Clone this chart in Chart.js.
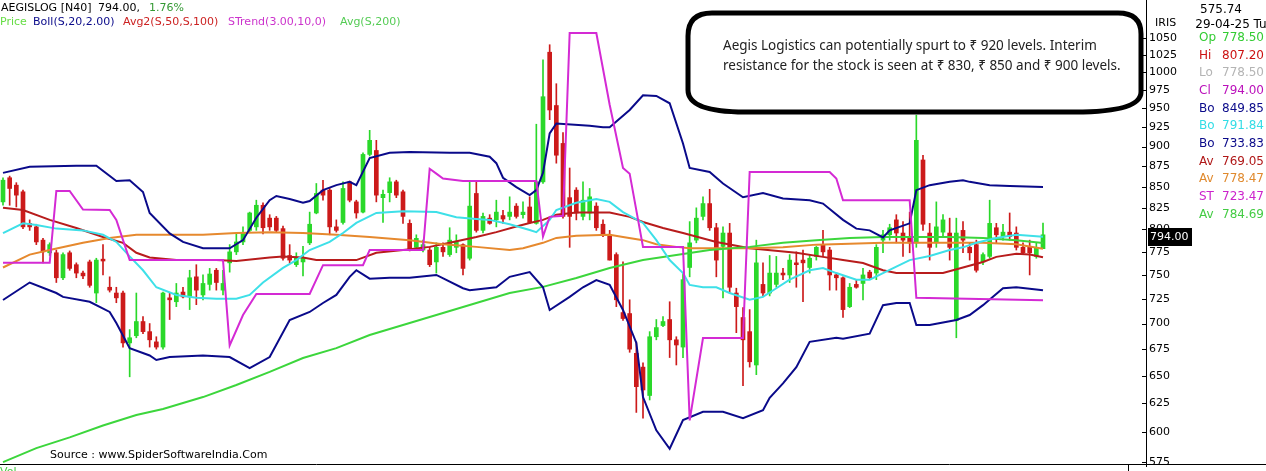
<!DOCTYPE html>
<html><head><meta charset="utf-8">
<script src="https://cdn.jsdelivr.net/npm/chart.js@4.4.1/dist/chart.umd.min.js"></script>
<style>html,body{margin:0;padding:0;background:#fff;overflow:hidden}#wrap{width:1266px;height:471px;position:relative}</style>
</head><body><div id="wrap"><canvas id="c" width="1266" height="471"></canvas></div>
<script>
// ---- DATA (daily candles, oldest -> newest) ----
const openP  = [832,861,852,844,807,803,788,774,774,747,774,761,752,764,731,767,737,731,731,681,688,702,692,682,677,726,722,732,727,748,729,740,755,734,763,775,786,799,803,828,813,813,801,771,761,764,785,819,846,846,803,808,856,832,820,890,895,837,843,856,844,807,780,777,777,764,780,772,780,783,768,842,799,813,811,816,815,827,817,826,807,856,1029,954,904,837,846,815,819,827,806,794,772,711,710,671,658,632,687,698,704,684,677,758,788,815,830,802,781,796,731,706,692,660,740,731,740,752,750,763,766,758,770,783,777,750,747,717,740,741,753,752,788,794,811,796,791,785,883,796,786,797,796,703,799,780,783,764,770,802,792,797,796,780,780,770,778.5];
const highP  = [861,863,855,846,811,806,790,785,777,774,776,763,754,766,768,783,748,737,733,694,731,707,700,687,732,731,741,737,755,761,750,757,757,755,783,796,803,820,834,831,817,815,804,783,774,781,820,854,858,848,811,856,857,834,892,921,908,846,861,858,846,811,794,788,780,785,785,802,794,784,856,856,819,817,834,822,838,830,832,838,929,1018,1040,984,918,873,849,856,848,831,811,799,774,764,724,682,662,692,704,707,722,687,752,809,825,838,847,807,803,807,736,716,714,788,763,771,770,757,772,775,777,772,781,799,780,752,748,741,745,757,755,783,799,806,817,809,820,941,889,807,832,817,813,813,809,785,788,774,834,807,806,819,803,785,788,785,807.2];
const lowP   = [828,828,826,801,799,783,763,771,742,745,755,747,746,737,721,750,732,721,677,649,686,690,677,675,675,704,717,726,714,719,724,734,734,729,753,772,783,797,799,795,799,797,766,763,759,749,783,818,834,794,797,806,832,813,819,888,832,808,832,837,807,776,779,775,759,752,770,770,774,750,766,797,796,806,803,807,811,813,813,807,806,854,935,879,813,780,811,811,811,799,792,766,717,703,672,617,612,628,684,697,667,660,667,748,785,811,799,748,726,731,691,641,658,651,728,728,737,745,742,737,722,752,766,770,734,734,706,716,736,724,745,745,774,788,785,770,774,780,799,766,780,792,766,686,774,766,753,761,768,785,788,788,777,772,750,768,778.5];
const closeP = [858,848,840,803,803,786,775,783,747,772,757,752,749,739,766,765,734,726,681,686,702,692,684,677,731,724,731,727,747,734,741,751,742,741,775,786,796,819,828,802,803,799,768,766,768,768,806,842,840,803,799,848,834,819,890,908,840,841,856,840,815,777,790,783,761,780,775,788,786,757,827,799,815,807,820,812,820,815,820,808,856,966,948,889,815,815,819,834,838,802,794,766,724,705,675,640,637,687,696,702,684,679,745,785,813,830,802,766,796,737,717,684,663,763,731,752,752,750,766,761,763,768,780,775,750,747,714,737,737,750,747,780,794,802,796,788,785,908,806,780,803,811,780,796,788,774,755,772,807,794,797,792,780,774,774,780,794];

// Indicator series: [candle index, value]
const bollUpper = [[0,867],[4,874.5],[11,875.7],[14,875.7],[17,857],[19,858],[21,843.7],[22,819],[25,795.6],[27,786],[30,779],[34,779],[36,788],[38,813.5],[40,834],[41,839],[43,835.5],[45,831],[46,833],[48,846],[50,852],[52,856],[53,852],[55,885.5],[58,892],[61,893],[67,892],[70,892],[73,887],[74,879],[75,861],[77,849.6],[79,840],[80,846],[81,867],[82,917],[83,930],[88,927],[90,925],[91,925],[94,948],[96,968],[98,967],[100,957],[102,904],[103,873],[106,868],[108,854],[111,837.5],[114,842.5],[117,836],[121,834],[123,830],[126,811],[128,801],[130,799],[132,791],[133,799],[136,807],[137,846],[139,852],[142,856],[144,858],[145,856],[148,852],[151,851],[156,849.85]];
const bollMid = [[0,796],[3,807],[5,805],[8,801],[12,799],[15,794],[17,786],[19,770],[21,755],[23,737],[26,729],[29,726],[32,725],[35,725],[37,729],[39,742],[42,757.5],[44,766],[46,777],[49,786],[51,796],[53,807.5],[56,819],[60,821],[65,820],[68,814],[71,812],[73,811],[76,806],[79,799.4],[80,797],[82,811],[83,822.5],[86,831],[89,835.5],[91,832],[93,820],[96,807.5],[98,788],[100,766],[102,752],[103,739.5],[105,737],[107,737],[109,731],[112,724],[114,727],[116,736],[118,745],[121,755],[123,757.5],[125,752],[128,745],[130,745],[132,752],[134,759],[136,766],[139,770.5],[142,777],[144,780],[146,785],[149,790.5],[152,794],[156,791.84]];
const bollLower = [[0,723.8],[4,742],[8,731],[9,727],[13,722],[16,711.6],[17,700.5],[19,676],[22,669],[23,664.7],[25,667.5],[30,669],[34,667.5],[37,657],[40,667.5],[43,703.5],[46,711.6],[48,720.7],[50,729],[52,748],[53,755],[55,746],[58,747],[61,747],[65,750],[69,736],[70,734],[74,737],[76,748],[79,753],[81,737],[82,713.6],[85,727],[87,737],[89,744.6],[91,739.5],[93,713.6],[95,681],[96,630.6],[98,601.5],[100,586],[102,610.4],[105,617.5],[108,617.5],[111,612],[114,619],[115,630],[117,643],[119,658],[121,682],[125,686],[126,685],[130,690],[132,718.5],[134,720.7],[136,720.7],[137,698.5],[139,698.5],[143,703.5],[145,708.5],[147,718.5],[150,736],[152,737],[156,733.83]];
const sma50 = [[0,825],[3,822.5],[7,811],[11,801.7],[15,791.5],[18,785],[20,774],[22,768.8],[26,766],[32,766],[35,765],[40,768.8],[42,770],[45,768.8],[47,766],[50,766],[53,766],[56,774],[60,777],[64,780.5],[67,785],[71,791.5],[74,797],[77,803.5],[79,807.5],[81,811],[83,817],[86,819.5],[89,819.5],[91,819.5],[94,814.5],[96,808.6],[99,801.7],[102,796],[107,786],[112,779],[119,774],[123,769.5],[126,766],[129,762.8],[132,755],[134,752],[137,752],[141,752],[144,758],[147,764],[149,769.5],[152,773],[154,772],[156,769.05]];
const sma100 = [[0,758],[4,772],[7,777],[12,785],[16,790.5],[20,794],[25,794],[30,794],[35,796],[40,797],[45,796],[50,794],[55,791.5],[61,788],[66,783.5],[71,780.5],[76,777],[78,779],[81,785],[83,790.5],[86,793],[91,794],[93,791.5],[96,788],[98,783.5],[101,780.5],[103,779],[107,779],[112,779],[117,780],[122,783],[127,784],[132,785],[137,785],[142,785],[147,785],[152,783.5],[156,778.47]];
const superTrend = [[0,763],[7,763],[8,845],[10,845],[12,823],[16,822.5],[17,811],[19,766],[33,766],[34,678.5],[36,708.5],[38,730],[46,730],[48,760.5],[54,760.5],[55,777],[63,777],[64,872],[65,866],[66,860],[69,857],[80,857],[81,792],[82,814.5],[84,815.7],[85,1057.5],[89,1057.5],[91,955],[93,873],[94,866],[96,780.5],[102,780.5],[103,610],[105,685.8],[111,685.8],[112,868],[124,868],[125,860],[126,834],[136,834],[137,726],[156,723.47]];
const sma200 = [[0,575],[5,586.5],[10,595.5],[15,605.7],[20,614.7],[24,620],[30,630.6],[35,641.5],[40,653.5],[45,666.6],[50,676],[55,688.7],[61,700.5],[66,710.6],[71,720.7],[76,731],[81,737.4],[86,746.7],[91,757.5],[96,766],[100,770.5],[102,772.7],[106,777],[112,780.5],[117,785],[122,788],[127,790.5],[132,791.5],[137,791.5],[142,791.5],[147,790.5],[152,788],[156,784.69]];

const yTicks = [575,600,625,650,675,700,725,750,775,800,825,850,875,900,925,950,975,1000,1025,1050];

const infoRows = [
  ['Op','778.50','#33cc33'],['Hi','807.20','#cc1111'],['Lo','778.50','#b4b4b4'],['Cl','794.00','#bb11bb'],
  ['Bo','849.85','#0a0a8a'],['Bo','791.84','#33dde6'],['Bo','733.83','#0a0a8a'],['Av','769.05','#b01818'],
  ['Av','778.47','#e08a2e'],['ST','723.47','#cc22cc'],['Av','784.69','#44cc44']
];
const noteLines = ['Aegis Logistics can potentially spurt to \u20b9 920 levels. Interim',
                   'resistance for the stock is seen at \u20b9 830, \u20b9 850 and \u20b9 900 levels.'];

// ---- styling ----
const UP = '#2ad82a', DOWN = '#cc1a1a';
const candleColor = ctx => (closeP[ctx.dataIndex] >= openP[ctx.dataIndex] ? UP : DOWN);
const toXY = arr => arr.map(([i, v]) => ({x: i, y: v}));
const lineDs = (data, color, order) => ({type:'line', data: toXY(data), borderColor: color, borderWidth: 2,
  pointRadius: 0, tension: 0, fill: false, order: order});

const FONT = '"DejaVu Sans", Verdana, sans-serif';

const overlay = {
  id: 'overlay',
  afterDraw(chart) {
    const c = chart.ctx, ys = chart.scales.y;
    c.save();
    c.strokeStyle = '#000'; c.lineWidth = 1;
    yTicks.forEach(v => { const y = Math.round(ys.getPixelForValue(v)) + 0.5; c.beginPath(); c.moveTo(1142, y); c.lineTo(1146, y); c.stroke(); });
    c.beginPath(); c.moveTo(0, 464.5); c.lineTo(1266, 464.5); c.stroke();
    c.beginPath(); c.moveTo(1128.5, 465); c.lineTo(1128.5, 471); c.stroke();
    // header
    c.textBaseline = 'middle'; c.textAlign = 'left';
    c.font = '11px ' + FONT;
    c.fillStyle = '#000'; c.fillText('AEGISLOG [N40]', 1, 8); c.fillText('794.00,', 98, 8);
    c.fillStyle = '#339933'; c.fillText('1.76%', 149, 8);
    [['Price',0,'#66dd44'],['Boll(S,20,2.00)',33,'#0a0a8a'],['Avg2(S,50,S,100)',123,'#cc2222'],['STrend(3.00,10,0)',228,'#cc33cc'],['Avg(S,200)',340,'#55cc55']]
      .forEach(([t,x,col]) => { c.fillStyle = col; c.fillText(t, x, 22); });
    // source
    c.fillStyle = '#000'; c.fillText('Source : www.SpiderSoftwareIndia.Com', 50, 455);
    c.fillStyle = '#44cc44'; c.fillText('Vol', 0, 472);
    // annotation box (hand-drawn rounded shape)
    c.fillStyle = '#fff'; c.strokeStyle = '#000'; c.lineWidth = 5; c.lineJoin = 'round';
    c.beginPath();
    c.moveTo(712, 13); c.lineTo(1118, 13); c.quadraticCurveTo(1141, 13, 1141, 34);
    c.lineTo(1141, 92); c.quadraticCurveTo(1141, 112, 1075, 112);
    c.lineTo(745, 112); c.quadraticCurveTo(688, 112, 688, 90);
    c.lineTo(688, 36); c.quadraticCurveTo(688, 13, 712, 13); c.closePath();
    c.fill(); c.stroke();
    c.fillStyle = '#222'; c.font = '13.5px "Noto Sans", sans-serif';
    c.fillText(noteLines[0], 723, 46); c.fillText(noteLines[1], 723, 66);
    // right panel
    c.fillStyle = '#000'; c.font = '11px ' + FONT;
    c.fillText('IRIS', 1155, 23);
    c.font = '12px ' + FONT; c.textAlign = 'center';
    c.fillText('575.74', 1221, 10); c.fillText('29-04-25 Tu', 1231, 25);
    infoRows.forEach(([lab, val, col], k) => {
      const y = 38 + 17.65 * k; c.fillStyle = col;
      c.textAlign = 'left'; c.fillText(lab, 1199, y);
      c.textAlign = 'right'; c.fillText(val, 1264, y);
    });
    // last price tag
    const ly = Math.round(ys.getPixelForValue(closeP[closeP.length - 1]));
    c.fillStyle = '#000'; c.fillRect(1148, ly - 7, 44, 18);
    c.fillStyle = '#fff'; c.font = '11px ' + FONT; c.textAlign = 'left'; c.fillText('794.00', 1150, ly + 2);
    c.restore();
  }
};

new Chart(document.getElementById('c'), {
  type: 'bar',
  data: { datasets: [
    lineDs(superTrend, '#d42ad4', 1),
    lineDs(bollUpper, '#0a0a8a', 2),
    lineDs(bollLower, '#0a0a8a', 2),
    lineDs(bollMid, '#3ee0e8', 3),
    lineDs(sma200, '#3cd63c', 4),
    lineDs(sma100, '#e6892e', 5),
    lineDs(sma50, '#b81c1c', 6),
    {type:'bar', data: openP.map((o,i)=>({x:i, y:[lowP[i], highP[i]]})), backgroundColor: candleColor, barThickness: 1, grouped: false, order: 10},
    {type:'bar', data: openP.map((o,i)=>({x:i, y:[o, closeP[i]]})), backgroundColor: candleColor, barThickness: 4, grouped: false, minBarLength: 1, order: 9}
  ]},
  options: {
    responsive: false, animation: false, devicePixelRatio: 1,
    layout: { padding: {left: 0, right: 0, top: 0, bottom: 5} },
    plugins: { legend: {display: false}, tooltip: {enabled: false} },
    scales: {
      x: { type: 'linear', display: false, min: -0.45, max: 171.45, offset: false },
      y: { type: 'logarithmic', position: 'right', min: 571.8, max: 1108.2,
        afterBuildTicks: ax => { ax.ticks = yTicks.map(v => ({value: v})); },
        afterFit: ax => { ax.width = 120; ax.paddingTop = 0; ax.paddingBottom = 0; },
        grid: { drawOnChartArea: false, drawTicks: false },
        border: { display: true, color: '#000', width: 1 },
        ticks: { color: '#000', padding: 3, autoSkip: false, font: {family: 'DejaVu Sans', size: 11}, callback: v => String(v) }
      }
    }
  },
  plugins: [overlay]
});
</script></body></html>
